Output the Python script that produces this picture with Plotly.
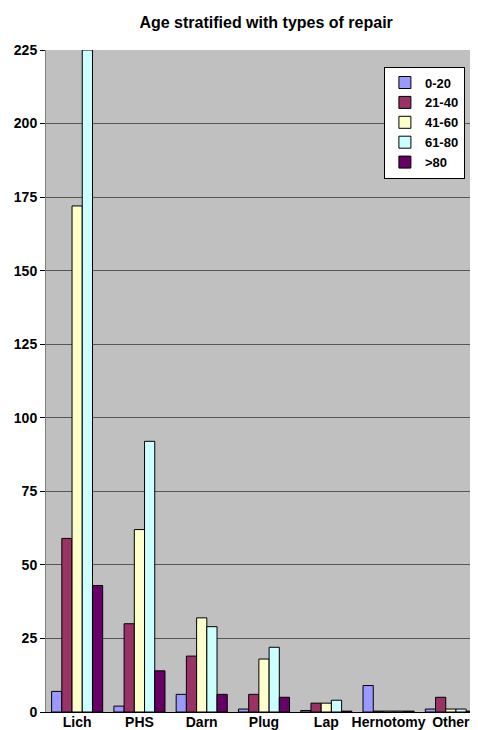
import plotly.graph_objects as go

categories = ["Lich", "PHS", "Darn", "Plug", "Lap", "Hernotomy", "Other"]
age_groups = ["0-20", "21-40", "41-60", "61-80", ">80"]

age_0_20 = [7, 2, 6, 1, 0.5, 9, 1]
age_21_40 = [59, 30, 19, 6, 3, 0.3, 5]
age_41_60 = [172, 62, 32, 18, 3, 0.3, 1]
age_61_80 = [225, 92, 29, 22, 4, 0.3, 1]
age_over_80 = [43, 14, 6, 5, 0.3, 0.3, 0.3]

series = [age_0_20, age_21_40, age_41_60, age_61_80, age_over_80]
colors = ["#9999FF", "#993366", "#FFFFCC", "#CCFFFF", "#660066"]

fig = go.Figure()
for name, vals, col in zip(age_groups, series, colors):
    fig.add_trace(go.Bar(
        x=categories,
        y=vals,
        name="<b>" + name + "</b>",
        marker=dict(color=col, line=dict(color="black", width=1)),
    ))

fig.update_layout(
    width=478,
    height=730,
    barmode="group",
    bargap=0.18,
    bargroupgap=0,
    plot_bgcolor="#C0C0C0",
    paper_bgcolor="white",
    font=dict(family="Liberation Sans, Arial", size=14, color="black"),
    title=dict(
        text="<b>Age stratified with types of repair</b>",
        x=0.54, xanchor="center", y=0.988, yanchor="top",
        font=dict(size=16),
    ),
    margin=dict(l=38, r=4, t=42, b=26),
    legend=dict(
        x=0.775, y=0.975, xanchor="left", yanchor="top",
        bgcolor="white", bordercolor="black", borderwidth=1,
        font=dict(size=13, family="Liberation Sans, Arial"),
        tracegroupgap=4,
        itemwidth=30,
    ),
    showlegend=True,
)

fig.update_xaxes(
    showline=True, linecolor="black", linewidth=1,
    ticks="outside", ticklen=0,
    ticklabelstandoff=-3,
    automargin=False,
    tickfont=dict(size=14),
    tickprefix="<b>", ticksuffix="</b>",
)
fig.update_yaxes(
    range=[0, 225], dtick=25,
    showgrid=True, gridcolor="#555555", gridwidth=1.3,
    showline=True, linecolor="#808080", linewidth=1,
    ticks="outside", ticklen=5, tickcolor="black",
    automargin=False,
    tickfont=dict(size=14),
    tickprefix="<b>", ticksuffix="</b>",
    zeroline=False,
)

fig.write_html("out.html")
